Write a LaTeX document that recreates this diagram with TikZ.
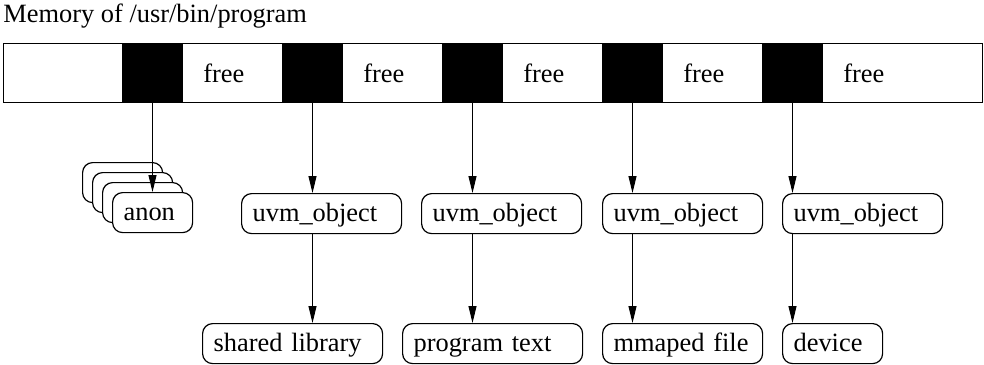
\documentclass[tikz,border=0pt]{standalone}
\usepackage{fontspec}
\setmainfont{Liberation Serif}
\usetikzlibrary{arrows.meta}
\tikzset{
  memcell/.style={
    rectangle, draw, line width=0.5pt, inner sep=0pt,
    anchor=north west, minimum height=29.5pt
  },
  usedcell/.style={memcell, fill=black, minimum width=30pt},
  freelabel/.style={anchor=west, inner sep=0pt},
  objbox/.style={
    rectangle, rounded corners=5pt, draw, line width=0.6pt, fill=white,
    anchor=north west, align=left, inner xsep=5.5pt, inner ysep=0pt,
    text height=10.5pt, text depth=3pt, minimum height=20pt
  },
  arrow/.style={-{Triangle[length=8.5pt,width=4pt]}, line width=0.5pt}
}

\begin{document}
\begin{tikzpicture}[x=0.5pt,y=-0.5pt,font=\fontsize{13.2}{16}\selectfont]
  \useasboundingbox (0,0) rectangle (984,364);

  % Title
  \node[anchor=base west, inner sep=0pt] (title) at (3,22)
  {Memory of /usr/bin/program};

  % Memory bar
  \node[memcell, minimum width=489.5pt] (mem) at (3,43) {};

  \node[usedcell] (blk1) at (122,43) {};
  \node[usedcell] (blk2) at (282,43) {};
  \node[usedcell] (blk3) at (442,43) {};
  \node[usedcell] (blk4) at (602,43) {};
  \node[usedcell] (blk5) at (762,43) {};

  \node[freelabel] (free1) at (203,73) {free};
  \node[freelabel] (free2) at (363,73) {free};
  \node[freelabel] (free3) at (523,73) {free};
  \node[freelabel] (free4) at (683,73) {free};
  \node[freelabel] (free5) at (843,73) {free};

  % Stack of anons, back to front
  \node[objbox, text width=29pt] (anonA) at (82,162) {};
  \node[objbox, text width=29pt] (anonB) at (92,172) {};
  \node[objbox, text width=29pt] (anonC) at (102,182) {};
  \node[objbox, text width=29pt] (anon) at (112,192) {anon};

  % Objects
  \node[objbox, text width=69pt] (uvmlib) at (241,193) {uvm\_object};
  \node[objbox, text width=69pt] (uvmtext) at (421,193) {uvm\_object};
  \node[objbox, text width=69pt] (uvmfile) at (602,193) {uvm\_object};
  \node[objbox, text width=69pt] (uvmdev) at (782,193) {uvm\_object};

  % Backing stores
  \node[objbox, text width=79pt] (shlib) at (202,323) {shared library};
  \node[objbox, text width=79pt] (progtext) at (402,323) {program text};
  \node[objbox, text width=69pt] (mmfile) at (602,323) {mmaped file};
  \node[objbox, text width=39pt] (device) at (782,323) {device};

  % Edges
  \draw[arrow] (blk1.south) -- (blk1.south |- anon.north);
  \draw[arrow] (blk2.south) -- (blk2.south |- uvmlib.north);
  \draw[arrow] (blk3.south) -- (blk3.south |- uvmtext.north);
  \draw[arrow] (blk4.south) -- (blk4.south |- uvmfile.north);
  \draw[arrow] (blk5.south) -- (blk5.south |- uvmdev.north);

  \draw[arrow] (blk2.south |- uvmlib.south) -- (blk2.south |- shlib.north);
  \draw[arrow] (blk3.south |- uvmtext.south) -- (blk3.south |- progtext.north);
  \draw[arrow] (blk4.south |- uvmfile.south) -- (blk4.south |- mmfile.north);
  \draw[arrow] (blk5.south |- uvmdev.south) -- (blk5.south |- device.north);

\end{tikzpicture}
\end{document}
